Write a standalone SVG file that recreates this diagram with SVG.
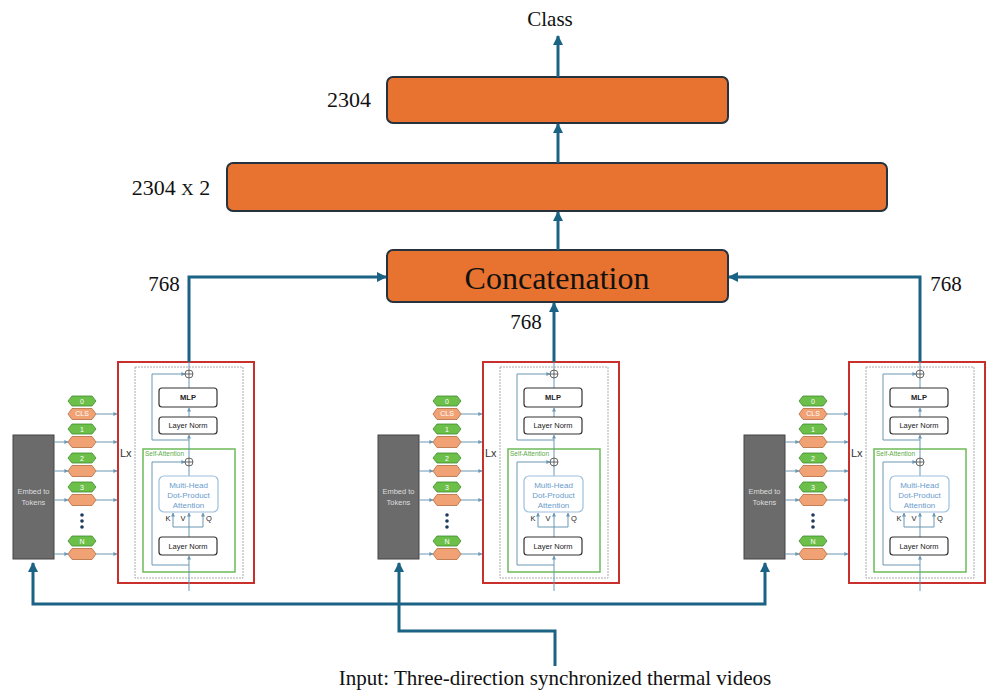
<svg xmlns="http://www.w3.org/2000/svg" width="999" height="696" viewBox="0 0 999 696">
<defs>
<style>
.th{stroke:#1b6385;stroke-width:3;fill:none}
.box{fill:#E8722F;stroke:#26323e;stroke-width:2}
.tm{font-family:"Liberation Serif","Times New Roman",serif;fill:#111}
.red{fill:#fff;stroke:#c9302c;stroke-width:2}
.dash{fill:none;stroke:#aaa;stroke-width:1;stroke-dasharray:2 1}
.grn{fill:none;stroke:#6dbb58;stroke-width:1.5}
.wb{fill:#fff;stroke:#333;stroke-width:1.2}
.mh{fill:#fff;stroke:#9cc0e0;stroke-width:1.2}
.ln{fill:none;stroke:#6b97b5;stroke-width:1}
.sf{font-family:"Liberation Sans",Arial,sans-serif}
.gh{fill:#6cc04a;stroke:#3d8a2e;stroke-width:0.8}
.oh{fill:#f0a274;stroke:#b56a3c;stroke-width:0.8}
.tk{font-family:"Liberation Sans",Arial,sans-serif;font-size:7px;fill:#fff;text-anchor:middle}
.bt{font-family:"Liberation Sans",Arial,sans-serif;font-size:7.5px;fill:#222;text-anchor:middle}
.at{font-family:"Liberation Sans",Arial,sans-serif;font-size:8px;fill:#6a9ccc;text-anchor:middle}
.dot{fill:#1e3a5a}
</style>
<marker id="ah" viewBox="0 0 10 10" markerWidth="10" markerHeight="10" refX="9" refY="5" markerUnits="userSpaceOnUse" orient="auto-start-reverse"><path d="M0 0 L10 5 L0 10 z" fill="#1b6385"/></marker>
<marker id="sa" viewBox="0 0 10 10" markerWidth="4" markerHeight="4" refX="9" refY="5" markerUnits="userSpaceOnUse" orient="auto"><path d="M0 0 L10 5 L0 10 z" fill="#6b97b5"/></marker>
</defs>
<rect width="999" height="696" fill="#fff"/>

<g id="class-label"><text class="tm" x="550" y="26" font-size="21" text-anchor="middle">Class</text></g>
<g id="fc2304">
<rect class="box" x="387" y="77" width="341" height="46" rx="6"/>
<text class="tm" x="349" y="107" font-size="22" text-anchor="middle">2304</text>
</g>
<g id="fc2304x2">
<rect class="box" x="227" y="163" width="660" height="48" rx="6"/>
<text class="tm" x="171" y="195" font-size="22" text-anchor="middle">2304 <tspan font-size="17">X</tspan> 2</text>
</g>
<g id="concat">
<rect class="box" x="387" y="250" width="341" height="52" rx="6"/>
<text class="tm" x="557" y="289" font-size="32" text-anchor="middle">Concatenation</text>
</g>
<g id="dims">
<text class="tm" x="164" y="291" font-size="21" text-anchor="middle">768</text>
<text class="tm" x="526" y="329" font-size="21" text-anchor="middle">768</text>
<text class="tm" x="946" y="291" font-size="21" text-anchor="middle">768</text>
</g>

<g id="encoder-left">
<rect class="red" x="118" y="362" width="136" height="221"/>
<rect class="dash" x="135" y="367" width="108" height="211"/>
<rect class="grn" x="143" y="449" width="92" height="123"/>
<text class="sf" x="145" y="456" font-size="6.5" fill="#5aaa48">Self-Attention</text>
<text class="sf" x="120" y="457" font-size="11" fill="#333">Lx</text>
<path class="ln" d="M189 591 V556" marker-end="url(#sa)"/>
<path class="ln" d="M189 537 V513" marker-end="url(#sa)"/>
<path class="ln" d="M173 527 H203"/>
<path class="ln" d="M173 527 V513" marker-end="url(#sa)"/>
<path class="ln" d="M203 527 V513" marker-end="url(#sa)"/>
<path class="ln" d="M189 476 V466"/>
<path class="ln" d="M189 458 V435" marker-end="url(#sa)"/>
<path class="ln" d="M189 417 V408" marker-end="url(#sa)"/>
<path class="ln" d="M189 388 V378"/>
<path class="ln" d="M189 370 V362"/>
<path class="ln" d="M189 565 H152 V462 H185" marker-end="url(#sa)"/>
<path class="ln" d="M189 440 H152 V374 H185" marker-end="url(#sa)"/>
<circle cx="189" cy="374" r="4" fill="#fff" stroke="#444" stroke-width="0.8"/>
<path d="M185 374 H193 M189 370 V378" stroke="#444" stroke-width="0.8"/>
<circle cx="189" cy="462" r="4" fill="#fff" stroke="#444" stroke-width="0.8"/>
<path d="M185 462 H193 M189 458 V466" stroke="#444" stroke-width="0.8"/>
<rect class="wb" x="159" y="388" width="58" height="19" rx="3"/>
<text class="bt" x="188" y="400" font-weight="bold">MLP</text>
<rect class="wb" x="159" y="417" width="58" height="17" rx="3"/>
<text class="bt" x="188" y="428">Layer Norm</text>
<rect class="mh" x="159" y="476" width="59" height="36" rx="5"/>
<text class="at" x="188.5" y="488">Multi-Head</text>
<text class="at" x="188.5" y="498">Dot-Product</text>
<text class="at" x="188.5" y="508">Attention</text>
<text class="bt" x="168" y="521">K</text>
<text class="bt" x="183" y="521">V</text>
<text class="bt" x="209" y="521">Q</text>
<rect class="wb" x="159" y="537" width="58" height="18" rx="3"/>
<text class="bt" x="188" y="549">Layer Norm</text>
<rect x="13" y="435" width="41" height="124" fill="#6b6b6b" stroke="#444" stroke-width="1"/>
<text class="sf" x="33.5" y="494" font-size="7.5" fill="#ddd" text-anchor="middle">Embed to</text>
<text class="sf" x="33.5" y="505" font-size="7.5" fill="#ddd" text-anchor="middle">Tokens</text>
<path class="ln" d="M54 442 H68" marker-end="url(#sa)"/>
<path class="ln" d="M54 471 H68" marker-end="url(#sa)"/>
<path class="ln" d="M54 500 H68" marker-end="url(#sa)"/>
<path class="ln" d="M54 554 H68" marker-end="url(#sa)"/>
<path class="ln" d="M96 414 H117" marker-end="url(#sa)"/>
<path class="ln" d="M96 442 H117" marker-end="url(#sa)"/>
<path class="ln" d="M96 471 H117" marker-end="url(#sa)"/>
<path class="ln" d="M96 500 H117" marker-end="url(#sa)"/>
<path class="ln" d="M96 554 H117" marker-end="url(#sa)"/>
<polygon class="gh" points="68,401 72,396 92,396 96,401 92,406 72,406"/><text class="tk" x="82" y="403.5">0</text>
<polygon class="oh" points="68,414 72,408.5 92,408.5 96,414 92,419.5 72,419.5"/><text class="tk" x="82" y="416" font-size="5">CLS</text>
<polygon class="gh" points="68,429 72,424 92,424 96,429 92,434 72,434"/><text class="tk" x="82" y="431.5">1</text>
<polygon class="oh" points="68,442 72,436.5 92,436.5 96,442 92,447.5 72,447.5"/>
<polygon class="gh" points="68,458 72,453 92,453 96,458 92,463 72,463"/><text class="tk" x="82" y="460.5">2</text>
<polygon class="oh" points="68,471 72,465.5 92,465.5 96,471 92,476.5 72,476.5"/>
<polygon class="gh" points="68,487 72,482 92,482 96,487 92,492 72,492"/><text class="tk" x="82" y="489.5">3</text>
<polygon class="oh" points="68,500 72,494.5 92,494.5 96,500 92,505.5 72,505.5"/>
<circle class="dot" cx="82" cy="515" r="1.8"/><circle class="dot" cx="82" cy="521" r="1.8"/><circle class="dot" cx="82" cy="527" r="1.8"/>
<polygon class="gh" points="68,541 72,536 92,536 96,541 92,546 72,546"/><text class="tk" x="82" y="543.5">N</text>
<polygon class="oh" points="68,554 72,548.5 92,548.5 96,554 92,559.5 72,559.5"/>
</g>

<g id="encoder-middle" transform="translate(365,0)">
<rect class="red" x="118" y="362" width="136" height="221"/>
<rect class="dash" x="135" y="367" width="108" height="211"/>
<rect class="grn" x="143" y="449" width="92" height="123"/>
<text class="sf" x="145" y="456" font-size="6.5" fill="#5aaa48">Self-Attention</text>
<text class="sf" x="120" y="457" font-size="11" fill="#333">Lx</text>
<path class="ln" d="M189 591 V556" marker-end="url(#sa)"/>
<path class="ln" d="M189 537 V513" marker-end="url(#sa)"/>
<path class="ln" d="M173 527 H203"/>
<path class="ln" d="M173 527 V513" marker-end="url(#sa)"/>
<path class="ln" d="M203 527 V513" marker-end="url(#sa)"/>
<path class="ln" d="M189 476 V466"/>
<path class="ln" d="M189 458 V435" marker-end="url(#sa)"/>
<path class="ln" d="M189 417 V408" marker-end="url(#sa)"/>
<path class="ln" d="M189 388 V378"/>
<path class="ln" d="M189 370 V362"/>
<path class="ln" d="M189 565 H152 V462 H185" marker-end="url(#sa)"/>
<path class="ln" d="M189 440 H152 V374 H185" marker-end="url(#sa)"/>
<circle cx="189" cy="374" r="4" fill="#fff" stroke="#444" stroke-width="0.8"/>
<path d="M185 374 H193 M189 370 V378" stroke="#444" stroke-width="0.8"/>
<circle cx="189" cy="462" r="4" fill="#fff" stroke="#444" stroke-width="0.8"/>
<path d="M185 462 H193 M189 458 V466" stroke="#444" stroke-width="0.8"/>
<rect class="wb" x="159" y="388" width="58" height="19" rx="3"/>
<text class="bt" x="188" y="400" font-weight="bold">MLP</text>
<rect class="wb" x="159" y="417" width="58" height="17" rx="3"/>
<text class="bt" x="188" y="428">Layer Norm</text>
<rect class="mh" x="159" y="476" width="59" height="36" rx="5"/>
<text class="at" x="188.5" y="488">Multi-Head</text>
<text class="at" x="188.5" y="498">Dot-Product</text>
<text class="at" x="188.5" y="508">Attention</text>
<text class="bt" x="168" y="521">K</text>
<text class="bt" x="183" y="521">V</text>
<text class="bt" x="209" y="521">Q</text>
<rect class="wb" x="159" y="537" width="58" height="18" rx="3"/>
<text class="bt" x="188" y="549">Layer Norm</text>
<rect x="13" y="435" width="41" height="124" fill="#6b6b6b" stroke="#444" stroke-width="1"/>
<text class="sf" x="33.5" y="494" font-size="7.5" fill="#ddd" text-anchor="middle">Embed to</text>
<text class="sf" x="33.5" y="505" font-size="7.5" fill="#ddd" text-anchor="middle">Tokens</text>
<path class="ln" d="M54 442 H68" marker-end="url(#sa)"/>
<path class="ln" d="M54 471 H68" marker-end="url(#sa)"/>
<path class="ln" d="M54 500 H68" marker-end="url(#sa)"/>
<path class="ln" d="M54 554 H68" marker-end="url(#sa)"/>
<path class="ln" d="M96 414 H117" marker-end="url(#sa)"/>
<path class="ln" d="M96 442 H117" marker-end="url(#sa)"/>
<path class="ln" d="M96 471 H117" marker-end="url(#sa)"/>
<path class="ln" d="M96 500 H117" marker-end="url(#sa)"/>
<path class="ln" d="M96 554 H117" marker-end="url(#sa)"/>
<polygon class="gh" points="68,401 72,396 92,396 96,401 92,406 72,406"/><text class="tk" x="82" y="403.5">0</text>
<polygon class="oh" points="68,414 72,408.5 92,408.5 96,414 92,419.5 72,419.5"/><text class="tk" x="82" y="416" font-size="5">CLS</text>
<polygon class="gh" points="68,429 72,424 92,424 96,429 92,434 72,434"/><text class="tk" x="82" y="431.5">1</text>
<polygon class="oh" points="68,442 72,436.5 92,436.5 96,442 92,447.5 72,447.5"/>
<polygon class="gh" points="68,458 72,453 92,453 96,458 92,463 72,463"/><text class="tk" x="82" y="460.5">2</text>
<polygon class="oh" points="68,471 72,465.5 92,465.5 96,471 92,476.5 72,476.5"/>
<polygon class="gh" points="68,487 72,482 92,482 96,487 92,492 72,492"/><text class="tk" x="82" y="489.5">3</text>
<polygon class="oh" points="68,500 72,494.5 92,494.5 96,500 92,505.5 72,505.5"/>
<circle class="dot" cx="82" cy="515" r="1.8"/><circle class="dot" cx="82" cy="521" r="1.8"/><circle class="dot" cx="82" cy="527" r="1.8"/>
<polygon class="gh" points="68,541 72,536 92,536 96,541 92,546 72,546"/><text class="tk" x="82" y="543.5">N</text>
<polygon class="oh" points="68,554 72,548.5 92,548.5 96,554 92,559.5 72,559.5"/>
</g>

<g id="encoder-right" transform="translate(731,0)">
<rect class="red" x="118" y="362" width="136" height="221"/>
<rect class="dash" x="135" y="367" width="108" height="211"/>
<rect class="grn" x="143" y="449" width="92" height="123"/>
<text class="sf" x="145" y="456" font-size="6.5" fill="#5aaa48">Self-Attention</text>
<text class="sf" x="120" y="457" font-size="11" fill="#333">Lx</text>
<path class="ln" d="M189 591 V556" marker-end="url(#sa)"/>
<path class="ln" d="M189 537 V513" marker-end="url(#sa)"/>
<path class="ln" d="M173 527 H203"/>
<path class="ln" d="M173 527 V513" marker-end="url(#sa)"/>
<path class="ln" d="M203 527 V513" marker-end="url(#sa)"/>
<path class="ln" d="M189 476 V466"/>
<path class="ln" d="M189 458 V435" marker-end="url(#sa)"/>
<path class="ln" d="M189 417 V408" marker-end="url(#sa)"/>
<path class="ln" d="M189 388 V378"/>
<path class="ln" d="M189 370 V362"/>
<path class="ln" d="M189 565 H152 V462 H185" marker-end="url(#sa)"/>
<path class="ln" d="M189 440 H152 V374 H185" marker-end="url(#sa)"/>
<circle cx="189" cy="374" r="4" fill="#fff" stroke="#444" stroke-width="0.8"/>
<path d="M185 374 H193 M189 370 V378" stroke="#444" stroke-width="0.8"/>
<circle cx="189" cy="462" r="4" fill="#fff" stroke="#444" stroke-width="0.8"/>
<path d="M185 462 H193 M189 458 V466" stroke="#444" stroke-width="0.8"/>
<rect class="wb" x="159" y="388" width="58" height="19" rx="3"/>
<text class="bt" x="188" y="400" font-weight="bold">MLP</text>
<rect class="wb" x="159" y="417" width="58" height="17" rx="3"/>
<text class="bt" x="188" y="428">Layer Norm</text>
<rect class="mh" x="159" y="476" width="59" height="36" rx="5"/>
<text class="at" x="188.5" y="488">Multi-Head</text>
<text class="at" x="188.5" y="498">Dot-Product</text>
<text class="at" x="188.5" y="508">Attention</text>
<text class="bt" x="168" y="521">K</text>
<text class="bt" x="183" y="521">V</text>
<text class="bt" x="209" y="521">Q</text>
<rect class="wb" x="159" y="537" width="58" height="18" rx="3"/>
<text class="bt" x="188" y="549">Layer Norm</text>
<rect x="13" y="435" width="41" height="124" fill="#6b6b6b" stroke="#444" stroke-width="1"/>
<text class="sf" x="33.5" y="494" font-size="7.5" fill="#ddd" text-anchor="middle">Embed to</text>
<text class="sf" x="33.5" y="505" font-size="7.5" fill="#ddd" text-anchor="middle">Tokens</text>
<path class="ln" d="M54 442 H68" marker-end="url(#sa)"/>
<path class="ln" d="M54 471 H68" marker-end="url(#sa)"/>
<path class="ln" d="M54 500 H68" marker-end="url(#sa)"/>
<path class="ln" d="M54 554 H68" marker-end="url(#sa)"/>
<path class="ln" d="M96 414 H117" marker-end="url(#sa)"/>
<path class="ln" d="M96 442 H117" marker-end="url(#sa)"/>
<path class="ln" d="M96 471 H117" marker-end="url(#sa)"/>
<path class="ln" d="M96 500 H117" marker-end="url(#sa)"/>
<path class="ln" d="M96 554 H117" marker-end="url(#sa)"/>
<polygon class="gh" points="68,401 72,396 92,396 96,401 92,406 72,406"/><text class="tk" x="82" y="403.5">0</text>
<polygon class="oh" points="68,414 72,408.5 92,408.5 96,414 92,419.5 72,419.5"/><text class="tk" x="82" y="416" font-size="5">CLS</text>
<polygon class="gh" points="68,429 72,424 92,424 96,429 92,434 72,434"/><text class="tk" x="82" y="431.5">1</text>
<polygon class="oh" points="68,442 72,436.5 92,436.5 96,442 92,447.5 72,447.5"/>
<polygon class="gh" points="68,458 72,453 92,453 96,458 92,463 72,463"/><text class="tk" x="82" y="460.5">2</text>
<polygon class="oh" points="68,471 72,465.5 92,465.5 96,471 92,476.5 72,476.5"/>
<polygon class="gh" points="68,487 72,482 92,482 96,487 92,492 72,492"/><text class="tk" x="82" y="489.5">3</text>
<polygon class="oh" points="68,500 72,494.5 92,494.5 96,500 92,505.5 72,505.5"/>
<circle class="dot" cx="82" cy="515" r="1.8"/><circle class="dot" cx="82" cy="521" r="1.8"/><circle class="dot" cx="82" cy="527" r="1.8"/>
<polygon class="gh" points="68,541 72,536 92,536 96,541 92,546 72,546"/><text class="tk" x="82" y="543.5">N</text>
<polygon class="oh" points="68,554 72,548.5 92,548.5 96,554 92,559.5 72,559.5"/>
</g>

<g id="input-label"><text class="tm" x="555" y="685" font-size="21" text-anchor="middle">Input: Three-direction synchronized thermal videos</text></g>

<g id="connectors">
<path class="th" d="M558 77 V36" marker-end="url(#ah)"/>
<path class="th" d="M558 163 V124" marker-end="url(#ah)"/>
<path class="th" d="M558 250 V212" marker-end="url(#ah)"/>
<path class="th" d="M189 362 V277 H386" marker-end="url(#ah)"/>
<path class="th" d="M920 362 V277 H729" marker-end="url(#ah)"/>
<path class="th" d="M554 362 V303" marker-end="url(#ah)"/>
<path class="th" d="M33 563 V604 H765 V563" marker-start="url(#ah)" marker-end="url(#ah)"/>
<path class="th" d="M555 666 V631 H399 V563" marker-end="url(#ah)"/>
</g>
</svg>
